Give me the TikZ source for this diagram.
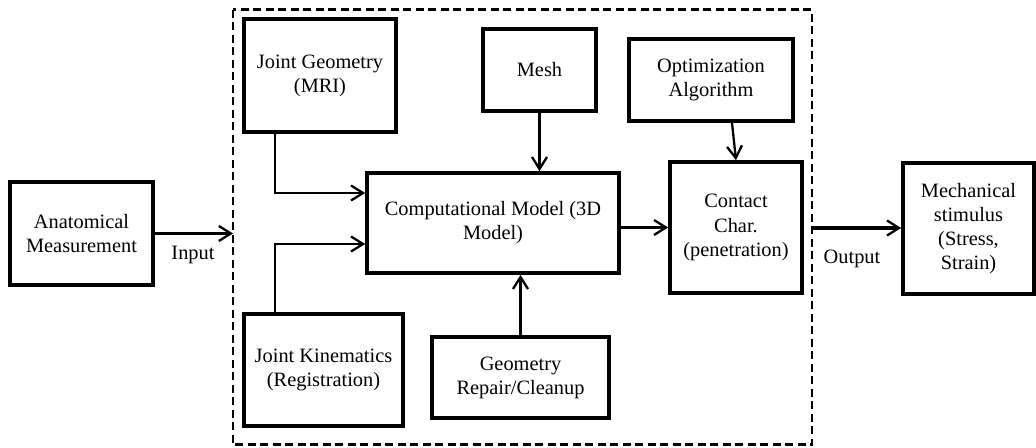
\documentclass[tikz,border=0pt]{standalone}
\usepackage{fontspec}
\setmainfont{Liberation Serif}
\usetikzlibrary{arrows.meta}

\begin{document}
\begin{tikzpicture}[x=0.02cm,y=-0.02cm,
	every node/.style={font=\fontsize{11.6}{13.7}\selectfont},
	block/.style={draw,line width=2.1pt,align=center,inner sep=2pt},
	flow/.style={line width=1.3pt,-{Straight Barb[length=0.24cm,width=0.3cm,line width=1.3pt]}},
	ioflow/.style={flow,line width=1.9pt},
	frame/.style={line width=1.7pt,dash pattern=on 0.16cm off 0.09cm}]
	\useasboundingbox (0,0) rectangle (1036,448);
	% Define the frame
	\draw[frame] (233,10) rectangle (812,445);
	\coordinate (inR) at (233,233.5);
	\coordinate (outL) at (812,228);
	% Create Blocks
	\node[block,minimum width=2.86cm,minimum height=2.06cm] (anat) at (81.5,233.5) {Anatomical\\Measurement};
	\node[block,minimum width=3.04cm,minimum height=2.26cm] (geo) at (320,75.5) {Joint Geometry\\(MRI)};
	\node[block,minimum width=3.18cm,minimum height=2.24cm] (kin) at (323.5,370) {Joint Kinematics\\(Registration)};
	\node[block,minimum width=5.04cm,minimum height=2.0cm] (comp) at (493,223) {Computational Model (3D\\Model)};
	\node[block,minimum width=2.26cm,minimum height=1.64cm] (mesh) at (539.5,70) {Mesh};
	\node[block,minimum width=3.28cm,minimum height=1.64cm] (opt) at (711,80) {Optimization\\Algorithm};
	\node[block,minimum width=2.64cm,minimum height=2.62cm] (contact) at (736,227.5) {Contact\\Char.\\(penetration)};
	\node[block,minimum width=3.54cm,minimum height=1.62cm] (repair) at (520.5,377.5) {Geometry\\Repair/Cleanup};
	\node[block,minimum width=2.62cm,minimum height=2.62cm] (mech) at (968.5,228.5) {Mechanical\\stimulus\\(Stress,\\Strain)};
	% Labels
	\node (inlbl) at (193,255) {Input};
	\node (outlbl) at (852,259) {Output};
	% Connect
	\draw[ioflow] (anat.east) -- (inR);
	\draw[flow] ([xshift=-0.9cm]geo.south) |- ([yshift=0.6cm]comp.west);
	\draw[flow] ([xshift=-0.97cm]kin.north) |- ([yshift=-0.42cm]comp.west);
	\draw[flow] (mesh.south) -- (mesh.south |- comp.north);
	\draw[flow] (repair.north) -- (repair.north |- comp.south);
	\draw[flow] ([xshift=0.42cm]opt.south) -- (contact.north);
	\draw[flow] (comp.east |- contact.west) -- (contact.west);
	\draw[ioflow] (outL) -- (mech.west |- outL);
\end{tikzpicture}
\end{document}
